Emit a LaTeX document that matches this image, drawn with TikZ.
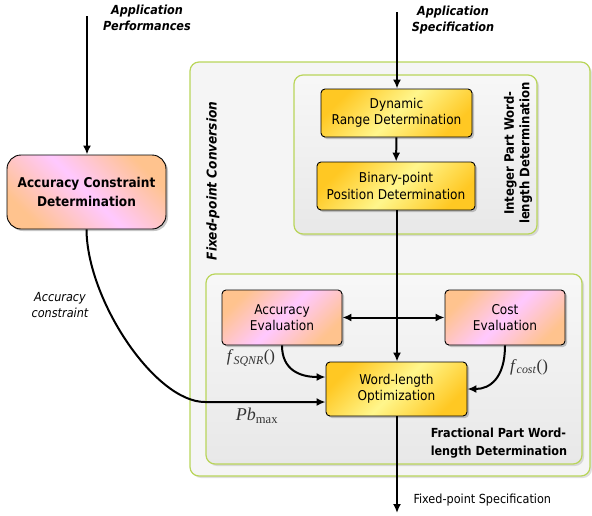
\documentclass[tikz,border=0pt]{standalone}
\usepackage[no-math]{fontspec}
\setmainfont{DejaVu Sans Condensed}
\newfontfamily\timesfont{Liberation Serif}
\usepackage{tikz}
\usetikzlibrary{shadows}
\usetikzlibrary{arrows.meta}
\usetikzlibrary{calc}
\definecolor{frame}{HTML}{B9D55A}
\definecolor{ydark}{HTML}{FFC823}
\definecolor{ylight}{HTML}{FFF68C}
\definecolor{peach}{HTML}{FFC38E}
\definecolor{lilac}{HTML}{FFC8FF}
\definecolor{labgray}{HTML}{333333}

\begin{document}
\begin{tikzpicture}[x=1pt,y=-1pt,
            box/.style={draw, line width=0.9pt, rounded corners=4pt, align=center, inner sep=0pt,
                font=\fontsize{13.5}{16.5}\selectfont,
                drop shadow={shadow xshift=2pt, shadow yshift=-2pt, opacity=0.45}},
            yellowbox/.style={box, left color=ydark, right color=ydark, middle color=ylight, shading angle=45},
            pinkbox/.style={box, left color=peach, right color=peach, middle color=lilac, shading angle=45},
            panel/.style={draw=frame, line width=1.2pt, rounded corners=9pt,
                drop shadow={shadow xshift=2pt, shadow yshift=-2pt, opacity=0.25}},
            flow/.style={line width=2pt, -{Latex[length=9pt,width=8pt]}},
            inlabel/.style={font=\bfseries\itshape\fontsize{12.5}{16}\selectfont, align=center},
            mathlabel/.style={text=labgray, font=\timesfont\fontsize{17}{18}\selectfont}]
            \useasboundingbox (0,0) rectangle (592,515);

            \draw[panel, fill=black!4] (190,62) rectangle (590,476);
            \draw[panel, top color=black!3, bottom color=black!9] (294,75) rectangle (537,234);
            \draw[panel, top color=black!3, bottom color=black!9] (206,274) rectangle (582,464);

            \node[rotate=90, font=\bfseries\itshape\fontsize{13.5}{16}\selectfont] (convlbl) at (213,181) {Fixed-point Conversion};
            \node[rotate=90, align=center, font=\bfseries\fontsize{13}{15.5}\selectfont] (intlbl) at (518,153) {Integer Part Word-\\length Determination};
            \node[align=left, font=\bfseries\fontsize{12.5}{18}\selectfont] (fraclbl) at (499,443) {Fractional Part Word-\\length Determination};

            \node[yellowbox, minimum width=151pt, minimum height=48pt] (dyn) at (396.5,113) {Dynamic\\Range Determination};
            \node[yellowbox, minimum width=158pt, minimum height=48pt] (bin) at (396,186) {Binary-point\\Position Determination};
            \node[pinkbox, minimum width=120pt, minimum height=55pt] (acc) at (282,317.5) {Accuracy\\Evaluation};
            \node[pinkbox, minimum width=120pt, minimum height=55pt] (cost) at (505,317.5) {Cost\\Evaluation};
            \node[yellowbox, minimum width=141pt, minimum height=54pt] (wlo) at (396.5,389) {Word-length\\Optimization};
            \node[pinkbox, shading angle=135, rounded corners=14pt, minimum width=159pt, minimum height=74pt,
                font=\bfseries\fontsize{13.5}{19}\selectfont] (acd) at (86.5,192) {Accuracy Constraint\\Determination};

            \node[inlabel] (perflbl) at (147,18) {Application\\Performances};
            \node[inlabel] (speclbl) at (453,20) {Application\\Specification};
            \node[align=center, font=\itshape\fontsize{12.5}{16}\selectfont] (conslbl) at (60,305) {Accuracy\\constraint};
            \node[anchor=west, font=\fontsize{12.5}{15}\selectfont] (outlbl) at (410,500) {Fixed-point Specification};
            \node[mathlabel] (sqnrlbl) at (251,358) {\textit{f}\textsubscript{\textit{SQNR}}()};
            \node[mathlabel] (costlbl) at (529,367) {\textit{f}\textsubscript{\textit{cost}}()};
            \node[mathlabel, font=\timesfont\fontsize{18}{19}\selectfont] (pblbl) at (257,416) {\textit{Pb}\textsubscript{max}};

            \coordinate (perfin) at (87,16);
            \coordinate (specin) at (397,12);
            \coordinate (specout) at (397,513);

            \draw[flow] (perfin) -- (perfin |- acd.north);
            \draw[flow] (specin) -- (specin |- dyn.north);
            \draw[flow] (dyn) -- (bin);
            \draw[flow] (specin |- bin.south) -- (specin |- wlo.north);
            \draw[flow] (specin |- wlo.south) -- (specout);
            \draw[line width=2pt, {Latex[length=9pt,width=8pt]}-{Latex[length=9pt,width=8pt]}] (acc) -- (cost);
            \draw[flow] (acc.south) .. controls (282,370) and (300,377) .. ($(wlo.west)+(0,-12)$);
            \draw[flow] (cost.south) .. controls (505,378) and (490,389) .. (wlo.east);
            \draw[flow] (acd.south) .. controls (87,300) and (155,402) .. (205,402) -- ($(wlo.west)+(0,13)$);
        \end{tikzpicture}
\end{document}
